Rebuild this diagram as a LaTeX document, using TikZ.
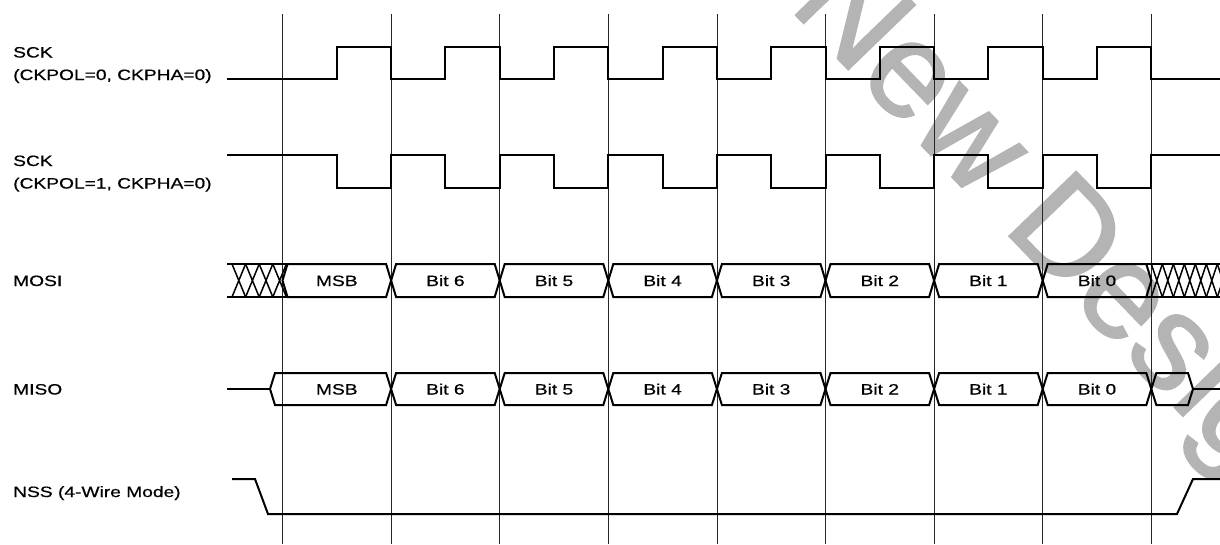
\documentclass[tikz,border=0pt]{standalone}
\usepackage{fontspec}
\newfontfamily\segnale[FakeStretch=1.28, FakeBold=0.6]{Liberation Sans}
\newfontfamily\filfont[FakeBold=1.5]{Liberation Sans}
\usetikzlibrary{calc}
\definecolor{filigrana}{HTML}{B4B4B4}
\def\xz{282.5}
\def\T{108.6}
\tikzset{
  sig/.style={line width=2pt, line join=miter},
  griglia/.style={line width=0.8pt, black!85},
  tratteggio/.style={line width=1.5pt},
  etichetta/.style={font=\segnale\fontsize{15}{17}\selectfont, inner sep=0pt, anchor=base west},
  bitlbl/.style={font=\segnale\fontsize{15}{17}\selectfont, inner sep=0pt, anchor=base},
}

\begin{document}
\begin{tikzpicture}[x=1pt, y=-1pt]
    \useasboundingbox (0,0) rectangle (1220,544);

    % Filigrana
    \begin{scope}
        \clip (0,0) rectangle (1220,544);
        \node[text=filigrana, rotate=-46, anchor=base west, inner sep=0pt, font=\filfont\fontsize{135}{135}\selectfont] (wm) at (788,7) {New Designs};
    \end{scope}

    % Linee verticali
    \foreach \i in {0,...,8}
        \draw[griglia] ({\xz+\T*\i},14) -- ({\xz+\T*\i},544);

    % Etichette
    \node[etichetta] (sckA) at (13,57.5) {SCK};
    \node[etichetta] (sckAmode) at (13,80) {(CKPOL=0, CKPHA=0)};
    \node[etichetta] (sckB) at (13,166) {SCK};
    \node[etichetta] (sckBmode) at (13,188.5) {(CKPOL=1, CKPHA=0)};
    \node[etichetta] (mosi) at (13,286) {MOSI};
    \node[etichetta] (miso) at (13,394.5) {MISO};
    \node[etichetta] (nss) at (13,497) {NSS (4-Wire Mode)};

    % SCK, CKPOL=0
    \draw[sig] (227,79) \foreach \i in {0,...,7} {
        -- ({\xz+\T*\i+\T/2},79) -- ({\xz+\T*\i+\T/2},47)
        -- ({\xz+\T*(\i+1)},47) -- ({\xz+\T*(\i+1)},79) } -- (1220,79);

    % SCK, CKPOL=1
    \draw[sig] (227,155) \foreach \i in {0,...,7} {
        -- ({\xz+\T*\i+\T/2},155) -- ({\xz+\T*\i+\T/2},188)
        -- ({\xz+\T*(\i+1)},188) -- ({\xz+\T*(\i+1)},155) } -- (1220,155);

    % MOSI
    \draw[sig] (227,264) -- (288,264) (227,297) -- (288,297);
    \foreach \k in {0,...,3}
        \draw[tratteggio] ({232+13.6*\k},264) -- ++(13.6,33) ({232+13.6*\k},297) -- ++(13.6,-33);
    \foreach \lab [count=\i from 0] in {MSB, Bit 6, Bit 5, Bit 4, Bit 3, Bit 2, Bit 1, Bit 0} {
        \draw[sig] ({\xz+\T*\i},280.5) -- ({\xz+\T*\i+5},264) -- ({\xz+\T*(\i+1)-5},264)
            -- ({\xz+\T*(\i+1)},280.5) -- ({\xz+\T*(\i+1)-5},297) -- ({\xz+\T*\i+5},297) -- cycle;
        \node[bitlbl] (mosi\i) at ({\xz+\T*\i+\T/2},286) {\lab};
    }
    \draw[sig] (1147,264) -- (1220,264) (1147,297) -- (1220,297);
    \foreach \k in {0,...,6}
        \draw[tratteggio] ({1151.3+11*\k},264) -- ++(11,33) ({1151.3+11*\k},297) -- ++(11,-33);

    % MISO
    \draw[sig] (227,389) -- (270,389);
    \foreach \lab [count=\i from 0] in {MSB, Bit 6, Bit 5, Bit 4, Bit 3, Bit 2, Bit 1, Bit 0} {
        \pgfmathsetmacro\xa{\i==0 ? 270 : \xz+\T*\i}
        \draw[sig] (\xa,389) -- ({\xa+5},373) -- ({\xz+\T*(\i+1)-5},373)
            -- ({\xz+\T*(\i+1)},389) -- ({\xz+\T*(\i+1)-5},405) -- ({\xa+5},405) -- cycle;
        \node[bitlbl] (miso\i) at ({\xz+\T*\i+\T/2},394.5) {\lab};
    }
    \draw[sig] (1151.3,389) -- (1156.3,373) -- (1188,373) -- (1193,389) -- (1188,405) -- (1156.3,405) -- cycle;
    \draw[sig] (1193,389) -- (1220,389);

    % NSS
    \draw[sig] (232,479) -- (255,479) -- (268,514) -- (1177,514) -- (1193,479) -- (1220,479);
\end{tikzpicture}
\end{document}
